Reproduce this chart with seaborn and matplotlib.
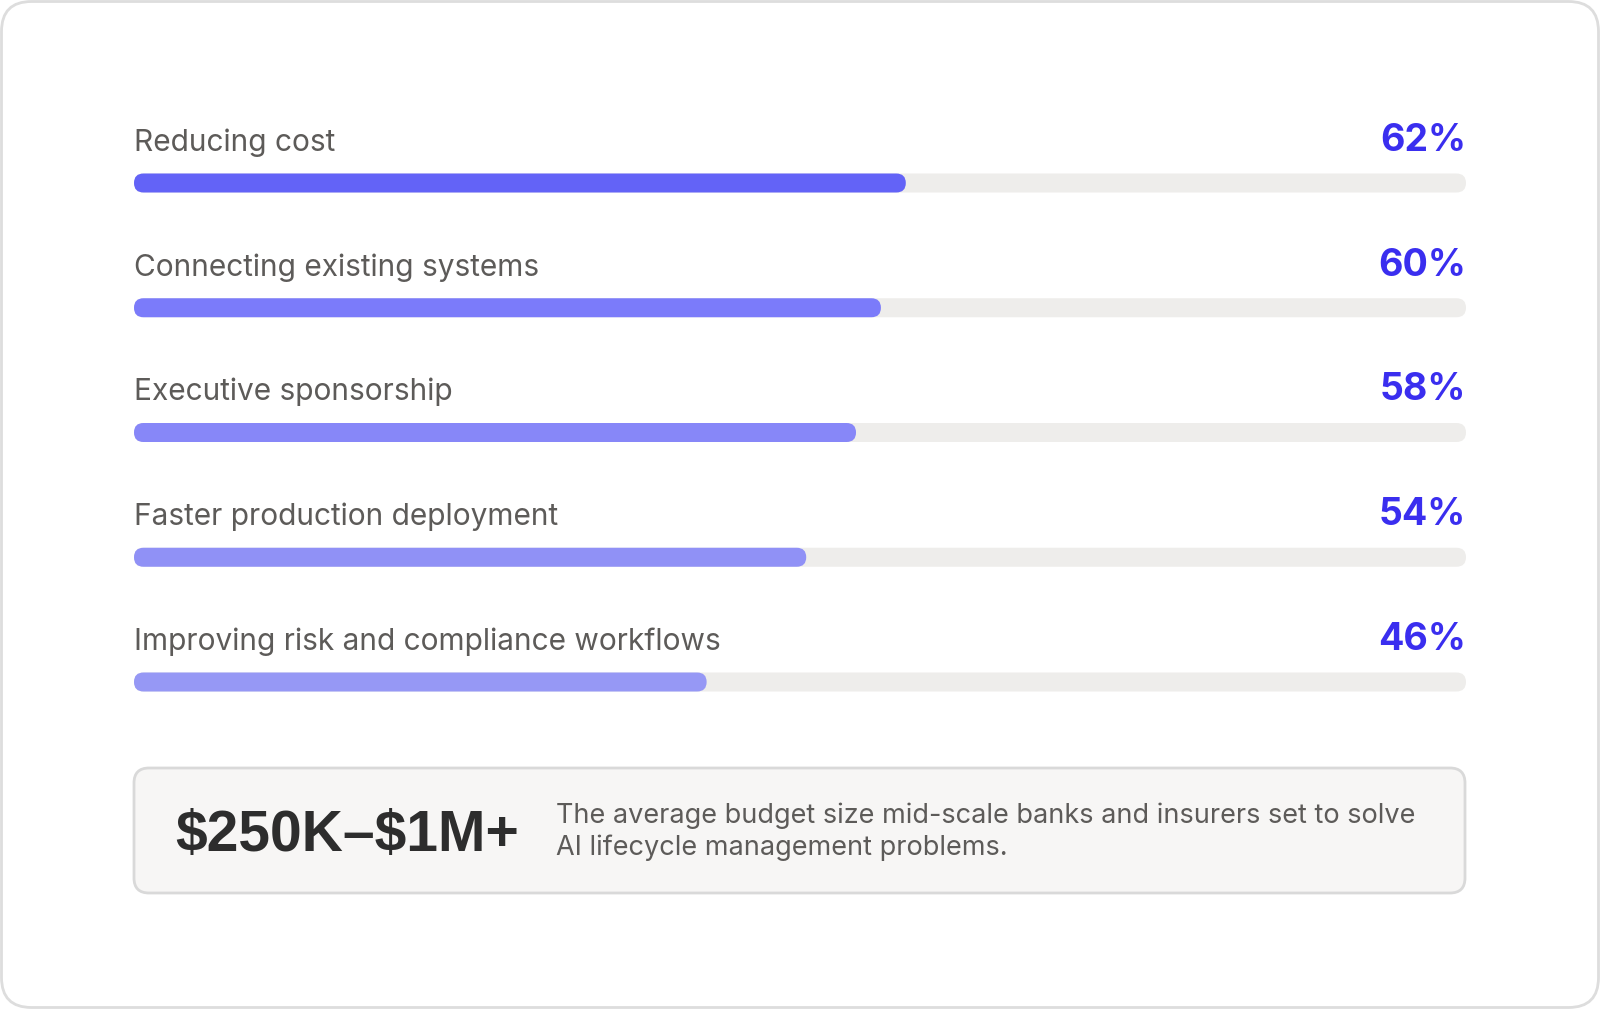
import pandas as pd
import matplotlib
matplotlib.use("Agg")
import matplotlib.pyplot as plt
from matplotlib.patches import FancyBboxPatch
import seaborn as sns

# data
categories = [
    "Reducing cost",
    "Connecting existing systems",
    "Executive sponsorship",
    "Faster production deployment",
    "Improving risk and compliance workflows",
]
shares = [62, 60, 58, 54, 46]
bar_colors = ["#6363f7", "#7b7bfa", "#8787f8", "#9091f6", "#9698f5"]
budget_figure = "$250K–$1M+"
budget_note = [
    "The average budget size mid-scale banks and insurers set to solve",
    "AI lifecycle management problems.",
]

TRACK_MAX = 107  # length of the grey track on the x scale

df = pd.DataFrame({"category": categories, "share": shares})
df["track"] = TRACK_MAX

# figure in pixel terms
W, H, DPI = 1600, 1009, 100
X0, X1 = 134, 1466        # track left / right in px
Y0, STEP = 183, 124.75    # first bar centre and row spacing in px
BAR_PX = 19

sns.set_theme(style="white")
plt.rcParams["font.family"] = ["Inter", "DejaVu Sans"]

fig = plt.figure(figsize=(W / DPI, H / DPI), dpi=DPI)
fig.patch.set_facecolor("white")

# decoration layer (card + budget box) in pixel units
deco = fig.add_axes([0, 0, 1, 1], zorder=0)
deco.set_xlim(0, W)
deco.set_ylim(H, 0)
deco.axis("off")
deco.add_patch(FancyBboxPatch((1.5, 1.5), W - 3, H - 3,
                              boxstyle="round,pad=0,rounding_size=30",
                              fc="white", ec="#dddddd", lw=2))
deco.add_patch(FancyBboxPatch((134, 768), 1331, 125,
                              boxstyle="round,pad=0,rounding_size=15",
                              fc="#f7f6f5", ec="#d9d9d9", lw=2))
deco.text(175, 851, budget_figure, fontsize=41, fontweight="bold",
          family=["Liberation Sans", "DejaVu Sans"], color="#2d2d2d",
          va="baseline", parse_math=False)
for k, line in enumerate(budget_note):
    deco.text(556, 823 + 32 * k, line, fontsize=19.5, color="#5d5b59",
              va="baseline")

# bar layer
ax = fig.add_axes([0, 0, 1, 1], zorder=1)
ax.patch.set_alpha(0)
bw = BAR_PX / STEP
sns.barplot(data=df, x="track", y="category", color="#eeedeb",
            width=bw, ax=ax, orient="h", saturation=1)
sns.barplot(data=df, x="share", y="category", hue="category",
            palette=bar_colors, width=bw, ax=ax, orient="h",
            legend=False, saturation=1)

px_per_x = (X1 - X0) / TRACK_MAX
ax.set_xlim(-X0 / px_per_x, (W - X0) / px_per_x)
ax.set_ylim((H - Y0) / STEP, -Y0 / STEP)
ax.axis("off")

# swap rectangles for rounded pills
aspect = px_per_x / STEP
for p in list(ax.patches):
    x, y, w, h = p.get_x(), p.get_y(), p.get_width(), p.get_height()
    r = abs(h) * STEP / 2 / px_per_x
    pill = FancyBboxPatch((x, y), w, h,
                          boxstyle=f"round,pad=0,rounding_size={r}",
                          mutation_aspect=aspect, fc=p.get_facecolor(),
                          ec="none", lw=0, zorder=p.get_zorder())
    p.remove()
    ax.add_patch(pill)

# labels and values
lift = (Y0 - 151) / STEP
for i, (cat, val) in enumerate(zip(categories, shares)):
    ax.text(0, i - lift, cat, fontsize=21.5, color="#5d5b59", va="baseline")
    ax.text(TRACK_MAX, i - lift, f"{val}%", fontsize=27,
            fontweight="bold", color="#3a2eef", ha="right", va="baseline")

fig.savefig("out.png", dpi=DPI, facecolor="white")
